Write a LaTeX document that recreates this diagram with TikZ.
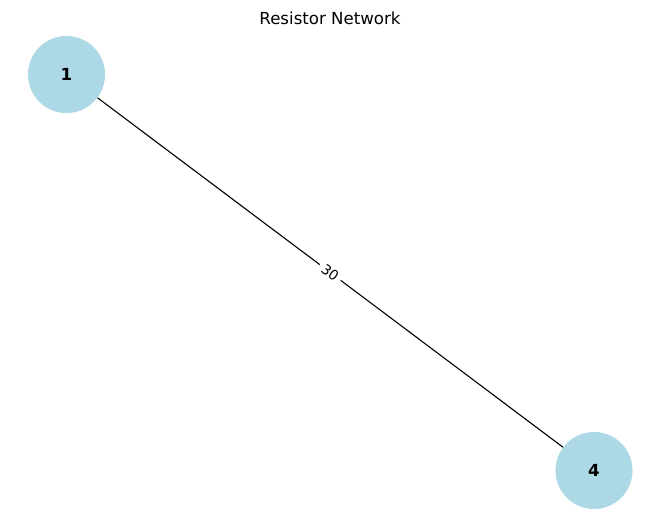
\documentclass[tikz,border=0pt]{standalone}
\usepackage{fontspec}
\setmainfont{DejaVu Sans}
\usetikzlibrary{calc}
\definecolor{nodeblue}{RGB}{173,216,230}

\begin{document}
\begin{tikzpicture}[
  x=0.01in, y=-0.01in,
  font=\fontsize{12}{14}\selectfont,
  vertex/.style={circle, fill=nodeblue, minimum size=0.77in, inner sep=0pt, font=\fontsize{12}{14}\selectfont\bfseries},
  wire/.style={line width=0.8pt, black},
  weight/.style={fill=white, inner sep=3pt, font=\fontsize{10}{12}\selectfont, sloped}
]
\useasboundingbox (0,0) rectangle (660,522);

\node (title) at (330,18) {Resistor Network};

\node[vertex] (n1) at (66.5,74.5) {1};
\node[vertex] (n4) at (594,470.5) {4};

\draw[wire] (n1) -- node[weight] {30} (n4);

\end{tikzpicture}
\end{document}
